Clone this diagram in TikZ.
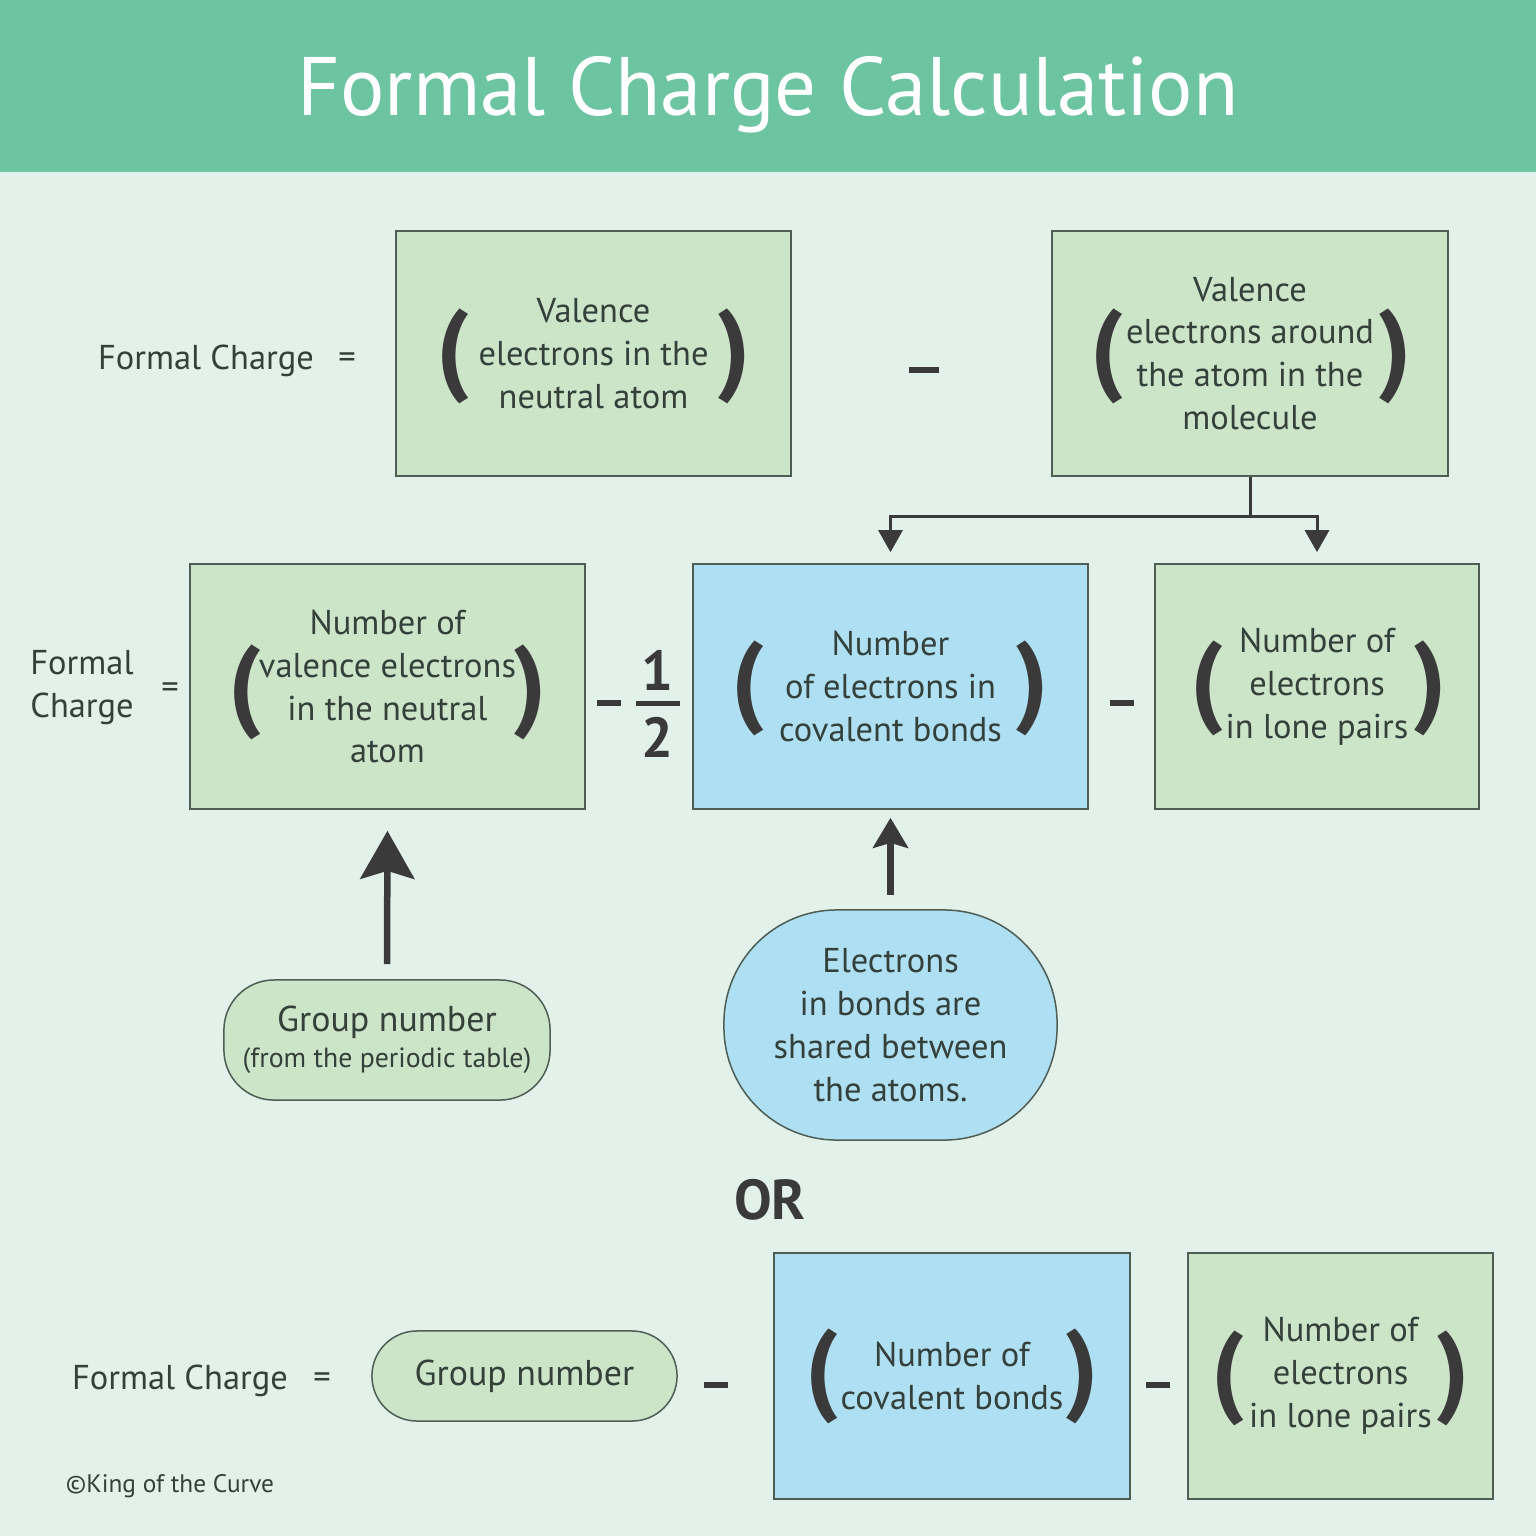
\documentclass[tikz,border=0pt]{standalone}
\usepackage{fontspec}
\setmainfont{PT Sans}
\usetikzlibrary{arrows.meta,positioning}
\definecolor{headgreen}{HTML}{6CC4A0}
\definecolor{paper}{HTML}{E2F1EA}
\definecolor{leafgreen}{HTML}{CCE5C8}
\definecolor{skyblue}{HTML}{AEDFF2}
\definecolor{ink}{HTML}{3A3A3A}
\definecolor{inktext}{HTML}{34403A}
\definecolor{edge}{HTML}{4E5E54}

\begin{document}
\begin{tikzpicture}[x=0.01cm,y=-0.01cm,
  words/.style={text=inktext,font=\fontsize{9.8}{12.2}\selectfont,align=center,inner sep=0},
  box/.style={words,draw=edge,line width=0.015cm,minimum height=2.45cm},
  greenbox/.style={box,fill=leafgreen},
  bluebox/.style={box,fill=skyblue},
  pill/.style={words,draw=edge,line width=0.015cm,fill=leafgreen,rounded corners=0.45cm},
  paren/.style={text=ink,font=\fontsize{29}{29}\selectfont\bfseries,inner sep=0},
  minus/.style={fill=ink,inner sep=0,minimum width=0.24cm,minimum height=0.055cm},
  branch/.style={draw=ink,line width=0.03cm,-{Triangle[width=0.24cm,length=0.22cm]}},
  bigarrow/.style={draw=ink,line width=0.065cm,-{Stealth[length=0.48cm,width=0.54cm,inset=0.08cm]}},
  smallarrow/.style={draw=ink,line width=0.065cm,-{Stealth[length=0.3cm,width=0.35cm,inset=0.05cm]}}]
  \useasboundingbox (0,0) rectangle (1536,1536);
  \fill[paper] (0,0) rectangle (1536,1536);
  \fill[headgreen] (0,0) rectangle (1536,172);
  \node[text=white,font=\fontsize{23.6}{28}\selectfont,inner sep=0] (title) at (768,95) {Formal Charge Calculation};

  % first formula
  \node[words] (fc1) at (206,361) {Formal Charge};
  \node[words] (eq1) at (347,361) {=};
  \node[greenbox,minimum width=3.95cm] (valN) at (593.5,353.5) {Valence\\electrons in the\\neutral atom};
  \node[paren] (valNl) at (453,356) {(};
  \node[paren] (valNr) at (734,356) {)};
  \node[minus,minimum width=0.3cm,minimum height=0.06cm] (m1) at (924,370) {};
  \node[greenbox,minimum width=3.96cm] (valM) at (1250,353.5) {Valence\\electrons around\\the atom in the\\molecule};
  \node[paren] (valMl) at (1107,356) {(};
  \node[paren] (valMr) at (1395,356) {)};

  % second formula
  \node[words] (fc2) at (82,688) {Formal\\Charge};
  \node[words] (eq2) at (170,691) {=};
  \node[greenbox,minimum width=3.95cm] (numV) at (387.5,686.5) {Number of\\valence electrons\\in the neutral\\atom};
  \node[paren] (numVl) at (245,692) {(};
  \node[paren] (numVr) at (530,692) {)};
  \node[minus] (m2) at (609,703) {};
  \node[text=ink,font=\fontsize{16}{16}\selectfont\bfseries,inner sep=0] (one) at (657,670) {1};
  \node[text=ink,font=\fontsize{16}{16}\selectfont\bfseries,inner sep=0] (two) at (657,737) {2};
  \draw[ink,line width=0.05cm] (636,703) -- (680,703);
  \node[bluebox,minimum width=3.95cm] (cov) at (890.5,686.5) {Number\\of electrons in\\covalent bonds};
  \node[paren] (covl) at (748,688) {(};
  \node[paren] (covr) at (1032,688) {)};
  \node[minus] (m3) at (1122,703) {};
  \node[greenbox,minimum width=3.24cm] (lone) at (1317,686.5) {Number of\\electrons\\in lone pairs};
  \node[paren] (lonel) at (1207,688) {(};
  \node[paren] (loner) at (1430,688) {)};

  % where the numbers come from
  \draw[branch] (valM.south) -- ++(0,40) coordinate (split) -| ([yshift=0.11cm]cov.north);
  \draw[branch] (split) -| ([yshift=0.11cm]lone.north);
  \node[pill,minimum width=3.26cm,minimum height=1.2cm,rounded corners=0.5cm] (group) at (387,1040)
    {\fontsize{10.2}{12.5}\selectfont Group number\\[-2pt]{\fontsize{7.9}{10}\selectfont (from the periodic table)}};
  \draw[bigarrow,shorten <=0.15cm,shorten >=0.21cm] (group.north) -- (numV.south);
  \node[words,draw=edge,line width=0.015cm,fill=skyblue,minimum width=3.33cm,minimum height=2.3cm,rounded corners=1.13cm] (shared) at (890.5,1025)
    {Electrons\\in bonds are\\shared between\\the atoms.};
  \draw[smallarrow,shorten <=0.14cm,shorten >=0.08cm] (shared.north) -- (cov.south);

  \node[text=ink,font=\fontsize{16}{16}\selectfont\bfseries,inner sep=0] (or) at (770,1200) {OR};

  % third formula
  \node[words] (fc3) at (180,1381) {Formal Charge};
  \node[words] (eq3) at (322,1381) {=};
  \node[pill,minimum width=3.05cm,minimum height=0.9cm,font=\fontsize{10.2}{12.5}\selectfont] (grp) at (524.5,1376) {Group number};
  \node[minus] (m4) at (716,1385) {};
  \node[bluebox,minimum width=3.56cm,minimum height=2.46cm] (bonds) at (952,1376) {Number of\\covalent bonds};
  \node[paren] (bondsl) at (822,1376) {(};
  \node[paren] (bondsr) at (1082,1376) {)};
  \node[minus] (m5) at (1158,1385) {};
  \node[greenbox,minimum width=3.05cm,minimum height=2.46cm] (lone2) at (1340.5,1376) {Number of\\electrons\\in lone pairs};
  \node[paren] (lone2l) at (1228,1378) {(};
  \node[paren] (lone2r) at (1453,1378) {)};

  \node[words,font=\fontsize{7.2}{9}\selectfont] (copy) at (170,1486) {©King of the Curve};
\end{tikzpicture}
\end{document}
